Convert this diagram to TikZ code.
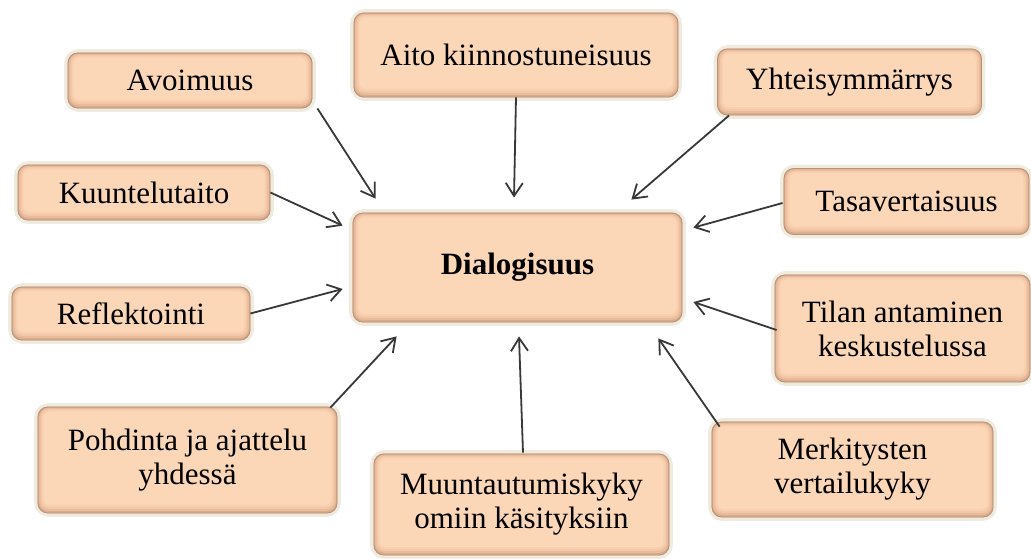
\documentclass[tikz,border=0pt]{standalone}
\usepackage{fontspec}
\setmainfont{Liberation Serif}
\usetikzlibrary{arrows.meta,calc}
\definecolor{halo}{HTML}{EFECDF}
\definecolor{boxline}{HTML}{B8927A}
\definecolor{shadeA}{HTML}{D9AC8C}
\definecolor{shadeB}{HTML}{E8BC9B}
\definecolor{shadeC}{HTML}{F2C8A8}
\definecolor{shadeD}{HTML}{F8D0B1}
\definecolor{peach}{HTML}{FBD6B7}
\definecolor{arrowc}{HTML}{383838}
\pgfdeclarelayer{bg}
\pgfsetlayers{bg,main}
\begin{document}
\begin{tikzpicture}[x=1pt,y=-1pt,
  box/.style={draw=boxline, line width=0.8pt, rounded corners=10pt, align=center,
    inner sep=0pt, font=\fontsize{31}{34}\selectfont},
  arr/.style={-{Straight Barb[length=13pt,width=17pt]}, line width=1.8pt, draw=arrowc}]
\useasboundingbox (0,0) rectangle (1031,558);

\node[box, minimum width=324pt, minimum height=84pt] (aito) at (516,55) {Aito kiinnostuneisuus};
\node[box, minimum width=244pt, minimum height=55pt] (avo) at (190,80.5) {Avoimuus};
\node[box, minimum width=264pt, minimum height=66pt] (yht) at (849.5,82) {Yhteisymmärrys};
\node[box, minimum width=252pt, minimum height=55pt] (kuu) at (144,192.5) {Kuuntelutaito};
\node[box, minimum width=245pt, minimum height=66pt] (tas) at (906.5,201.5) {Tasavertaisuus};
\node[box, minimum width=329pt, minimum height=109pt, font=\fontsize{31}{34}\selectfont\bfseries] (dia) at (517.5,267.5) {Dialogisuus};
\node[box, minimum width=238pt, minimum height=53pt] (ref) at (131,313.5) {Reflektointi};
\node[box, minimum width=255pt, minimum height=107pt] (til) at (902.5,328.5) {Tilan antaminen\\keskustelussa};
\node[box, minimum width=299pt, minimum height=106pt] (poh) at (187.5,460) {Pohdinta ja ajattelu\\yhdessä};
\node[box, minimum width=295pt, minimum height=101pt] (mu) at (521.5,504.5) {Muuntautumiskyky\\omiin käsityksiin};
\node[box, minimum width=281pt, minimum height=95pt] (mer) at (852.5,469.5) {Merkitysten\\vertailukyky};

\begin{pgfonlayer}{bg}
\fill[white] (0,0) rectangle (1031,558);
\foreach \n in {aito,avo,yht,kuu,tas,dia,ref,til,poh,mu,mer}{
  \draw[halo, line width=7pt, rounded corners=11pt] (\n.south west) rectangle (\n.north east);
  \fill[shadeA, rounded corners=10pt] (\n.south west) rectangle (\n.north east);
  \fill[shadeB, rounded corners=9pt] ($(\n.south west)+(1.5,-2.5)$) rectangle ($(\n.north east)+(-1.5,1.2)$);
  \fill[shadeC, rounded corners=8pt] ($(\n.south west)+(3,-4.5)$) rectangle ($(\n.north east)+(-3,2.4)$);
  \fill[shadeD, rounded corners=7pt] ($(\n.south west)+(4.5,-6.5)$) rectangle ($(\n.north east)+(-4.5,3.6)$);
  \fill[peach, rounded corners=6pt] ($(\n.south west)+(6,-8.5)$) rectangle ($(\n.north east)+(-6,5)$);
}
\end{pgfonlayer}

\draw[arr] ($(avo.south east)+(5,0)$) -- ($(dia.north west)+(23,-14)$);
\draw[arr] (aito.south) -- ($(dia.north)+(-3.5,-15)$);
\draw[arr] ($(yht.south west)+(12,0)$) -- ($(dia.north east)+(-51,-13)$);
\draw[arr] (kuu.east) -- ($(dia.north west)+(-10,13)$);
\draw[arr] ($(tas.west)+(-1,1.5)$) -- ($(dia.north east)+(11,15)$);
\draw[arr] (ref.east) -- ($(dia.west)+(-10,21.5)$);
\draw[arr] ($(til.west)+(2,1.5)$) -- ($(dia.east)+(11,34.5)$);
\draw[arr] ($(poh.north east)+(-7,1)$) -- ($(dia.south west)+(44,14)$);
\draw[arr] ($(mu.north)+(1.5,-1)$) -- ($(dia.south)+(1.5,14)$);
\draw[arr] ($(mer.north west)+(8,5)$) -- ($(dia.south east)+(-24,16)$);
\end{tikzpicture}
\end{document}
